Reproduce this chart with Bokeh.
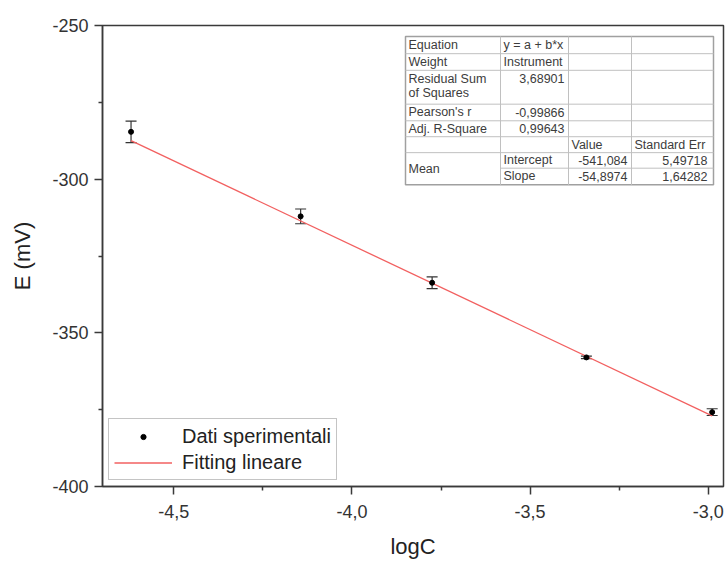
from bokeh.plotting import figure
from bokeh.models import (ColumnDataSource, Range1d, Whisker, TeeHead, FixedTicker,
                          CustomJSTickFormatter)
from bokeh.core.properties import value
from bokeh.embed import file_html
from bokeh.resources import INLINE

# ---------------- data ----------------
logC = [-4.62, -4.144, -3.775, -3.342, -2.989]
E_mV = [-284.6, -312.1, -333.7, -358.0, -375.8]
E_err = [3.5, 2.4, 1.9, 0.4, 1.1]

fit_intercept = -541.084
fit_slope = -54.8974

x_ticks = [-4.5, -4.0, -3.5, -3.0]
x_tick_labels = ["-4,5", "-4,0", "-3,5", "-3,0"]
x_minor = [-4.25, -3.75, -3.25]
y_ticks = [-400, -350, -300, -250]
y_tick_labels = ["-400", "-350", "-300", "-250"]
y_minor = [-375, -325, -275]

table_col0 = ["Equation", "Weight", "Residual Sum", "Pearson's r", "Adj. R-Square"]
table_col1 = ["y = a + b*x", "Instrument", "3,68901", "-0,99866", "0,99643"]
table_header = ["Value", "Standard Err"]
table_params = ["Intercept", "Slope"]
table_values = ["-541,084", "-54,8974"]
table_errors = ["5,49718", "1,64282"]

# ---------------- layout ----------------
W, H = 725, 561
FL, FT = 102, 25
FRAME_W, FRAME_H = 621, 463
X0, X1 = -4.7001, -2.9572
Y0, Y1 = -400, -250
FONT = "Liberation Sans"

def fx(px):
    return X0 + px * (X1 - X0) / FRAME_W

def fy(py):
    return Y1 - py * (Y1 - Y0) / FRAME_H

p = figure(width=W, height=H, output_backend="svg", toolbar_location=None,
           x_range=Range1d(X0, X1), y_range=Range1d(Y0, Y1),
           min_border_left=FL, min_border_top=FT, min_border_right=W - FL - FRAME_W,
           min_border_bottom=H - FT - FRAME_H)
p.grid.visible = False
p.outline_line_color = "#3a3a3a"
p.outline_line_width = 1.5
p.background_fill_color = "white"
p.border_fill_color = "white"

# axes
p.xaxis.ticker = FixedTicker(ticks=x_ticks, minor_ticks=x_minor)
p.yaxis.ticker = FixedTicker(ticks=y_ticks, minor_ticks=y_minor)
lookup = "const i = tt.findIndex(t => Math.abs(t - tick) < 1e-9); return i >= 0 ? ll[i] : '';"
p.xaxis.formatter = CustomJSTickFormatter(args=dict(tt=x_ticks, ll=x_tick_labels), code=lookup)
p.yaxis.formatter = CustomJSTickFormatter(args=dict(tt=y_ticks, ll=y_tick_labels), code=lookup)
for ax in (p.xaxis, p.yaxis):
    ax.axis_line_color = "#3a3a3a"
    ax.axis_line_width = 1.5
    ax.major_tick_line_color = "#3a3a3a"
    ax.minor_tick_line_color = "#3a3a3a"
    ax.major_tick_line_width = 1.5
    ax.minor_tick_line_width = 1.5
    ax.major_tick_out = 8
    ax.major_tick_in = 0
    ax.minor_tick_out = 4
    ax.minor_tick_in = 0
    ax.major_label_text_font = FONT
    ax.major_label_text_font_size = "18px"
    ax.major_label_text_color = "#333333"
    ax.axis_label_text_font = FONT
    ax.axis_label_text_font_size = "22px"
    ax.axis_label_text_font_style = "normal"
    ax.axis_label_text_color = "#222222"
p.xaxis.axis_label = "logC"
p.yaxis.axis_label = "E (mV)"
p.xaxis.major_label_standoff = 10
p.xaxis.axis_label_standoff = 13
p.yaxis.major_label_standoff = 6
p.yaxis.axis_label_standoff = 14

# data
upper = [e + d for e, d in zip(E_mV, E_err)]
lower = [e - d for e, d in zip(E_mV, E_err)]
src = ColumnDataSource(dict(x=logC, y=E_mV, upper=upper, lower=lower))

fit_x = [logC[0], logC[-1]]
fit_y = [fit_intercept + fit_slope * v for v in fit_x]
p.line(fit_x, fit_y, line_color="#f26060", line_width=1.3, legend_label="Fitting lineare")

wh = Whisker(source=src, base="x", upper="upper", lower="lower", dimension="height",
             line_color="#333333", line_width=1.2,
             upper_head=TeeHead(size=11, line_color="#333333", line_width=1.2),
             lower_head=TeeHead(size=11, line_color="#333333", line_width=1.2))
p.add_layout(wh)
r_pts = p.scatter("x", "y", source=src, size=5, color="black", legend_label="Dati sperimentali")

# reorder legend: points first
leg = p.legend[0]
leg.items = sorted(leg.items, key=lambda it: 0 if it.label.value == "Dati sperimentali" else 1)
leg.location = (6, 6)
leg.margin = 0
leg.padding = 5
leg.spacing = 2
leg.label_height = 24
leg.glyph_height = 13
leg.glyph_width = 58
leg.label_standoff = 10
leg.label_text_font = FONT
leg.label_text_font_size = "20px"
leg.label_text_color = "#222222"
leg.border_line_color = "#8a8a8a"
leg.border_line_width = 1.5
leg.background_fill_color = "white"
leg.background_fill_alpha = 1.0

# ---------------- results table ----------------
cols = [303, 398, 466, 529, 611]          # frame px from left
rows = [11, 28.3, 45, 79, 95.7, 111.7, 127.7, 143.3, 160]  # frame px from top
PAD = 3

p.quad(left=[fx(cols[0])], right=[fx(cols[-1])], top=[fy(rows[0])], bottom=[fy(rows[-1])],
       fill_color="white", line_color="#a0a0a0", line_width=1.5)
# horizontal lines
hx0, hx1, hy = [], [], []
for i, r in enumerate(rows[1:-1], start=1):
    start = cols[1] if i == 7 else cols[0]
    hx0.append(fx(start)); hx1.append(fx(cols[-1])); hy.append(fy(r))
p.segment(x0=hx0, x1=hx1, y0=hy, y1=hy, line_color="#c0c0c0", line_width=1)
vx = [fx(c) for c in cols[1:-1]]
p.segment(x0=vx, x1=vx, y0=[fy(rows[0])] * 3, y1=[fy(rows[-1])] * 3,
          line_color="#c0c0c0", line_width=1)

def mid(i):
    return (rows[i] + rows[i + 1]) / 2

tkw = dict(text_font=value(FONT), text_font_size="12.5px", text_color="#3c3c3c")
# left-aligned texts
lx, ly, lt = [], [], []
for i, t in enumerate(table_col0):
    lx.append(fx(cols[0] + PAD)); lt.append(t)
    ly.append(fy(rows[i] + 8.3) if i == 2 else fy(mid(i)))
lx.append(fx(cols[0] + PAD)); ly.append(fy(rows[2] + 23)); lt.append("of Squares")
lx.append(fx(cols[0] + PAD)); ly.append(fy((rows[6] + rows[8]) / 2)); lt.append("Mean")
for i in (0, 1):
    lx.append(fx(cols[1] + PAD)); ly.append(fy(mid(i))); lt.append(table_col1[i])
for k, t in enumerate(table_params):
    lx.append(fx(cols[1] + PAD)); ly.append(fy(mid(6 + k))); lt.append(t)
for k, t in enumerate(table_header):
    lx.append(fx(cols[2 + k] + PAD)); ly.append(fy(mid(5))); lt.append(t)
p.text(x=lx, y=ly, text=lt, text_align="left", text_baseline="middle", **tkw)

# right-aligned numbers
rx, ry, rt = [], [], []
for i in (2, 3, 4):
    rx.append(fx(cols[2] - 4)); rt.append(table_col1[i])
    ry.append(fy(rows[i] + 8.3) if i == 2 else fy(mid(i)))
for k in (0, 1):
    rx.append(fx(cols[3] - 4)); ry.append(fy(mid(6 + k))); rt.append(table_values[k])
    rx.append(fx(cols[4] - 6)); ry.append(fy(mid(6 + k))); rt.append(table_errors[k])
p.text(x=rx, y=ry, text=rt, text_align="right", text_baseline="middle", **tkw)

open("out.html", "w").write(file_html(p, INLINE))
